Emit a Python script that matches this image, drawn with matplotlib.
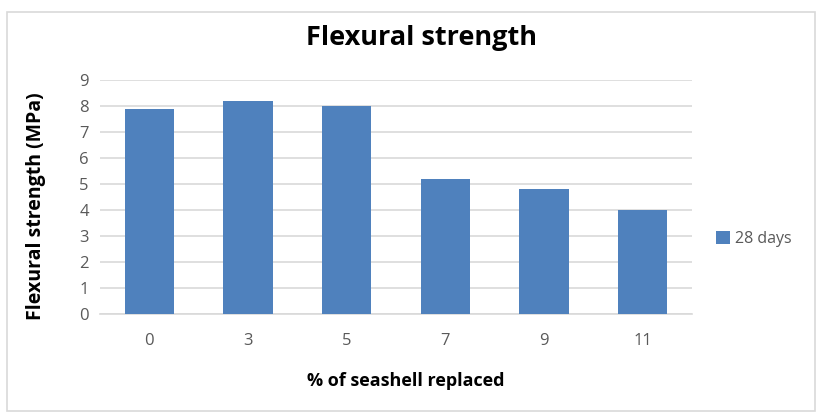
import matplotlib.pyplot as plt
from matplotlib.patches import Rectangle

replacement = ["0", "3", "5", "7", "9", "11"]
strength_28d = [7.9, 8.2, 8.0, 5.2, 4.8, 4.0]
y_ticks = list(range(0, 10))

plt.rcParams['font.family'] = ['Open Sans', 'DejaVu Sans']

W, H = 817, 413
fig = plt.figure(figsize=(W / 100, H / 100), dpi=100)

# chart border
fig.patches.append(Rectangle((7 / W, 2 / H), (W - 9) / W, (H - 14) / H,
                             transform=fig.transFigure, fill=False,
                             edgecolor='#d9d9d9', linewidth=1.2))

ax = fig.add_axes([100 / W, 1 - 314 / H, 592 / W, 234 / H])
x = range(len(replacement))
ax.bar(x, strength_28d, width=0.5, color='#4F81BD', label='28 days', zorder=3)
ax.set_xlim(-0.5, len(replacement) - 0.5)
ax.set_ylim(0, 9)
ax.set_yticks(y_ticks)
ax.set_xticks(list(x))
ax.set_xticklabels(replacement)
ax.grid(axis='y', color='#d9d9d9', linewidth=1.2, zorder=0)
for side in ['top', 'right', 'left']:
    ax.spines[side].set_visible(False)
ax.spines['bottom'].set_color('#d9d9d9')
ax.spines['bottom'].set_linewidth(1.2)
ax.tick_params(length=0, labelsize=12, colors='#595959', pad=8)
ax.tick_params(axis='x', pad=14)

fig.text(421 / W, 1 - 38 / H, 'Flexural strength', ha='center', va='center',
         fontsize=19.5, fontweight='bold')
fig.text(36 / W, 1 - 206 / H, 'Flexural strength (MPa)', ha='center', va='center',
         rotation=90, fontsize=14, fontweight='bold')
fig.text(406 / W, 1 - 381 / H, '% of seashell replaced', ha='center', va='center',
         fontsize=13, fontweight='bold')

ax.legend(loc='center left', bbox_to_anchor=((716 - 100) / 592, (314 - 239) / 234),
          frameon=False, handlelength=0.9, handleheight=0.9, handletextpad=0.3,
          fontsize=11.5, labelcolor='#595959', borderaxespad=0, borderpad=0)

fig.savefig('out.png', dpi=100)
